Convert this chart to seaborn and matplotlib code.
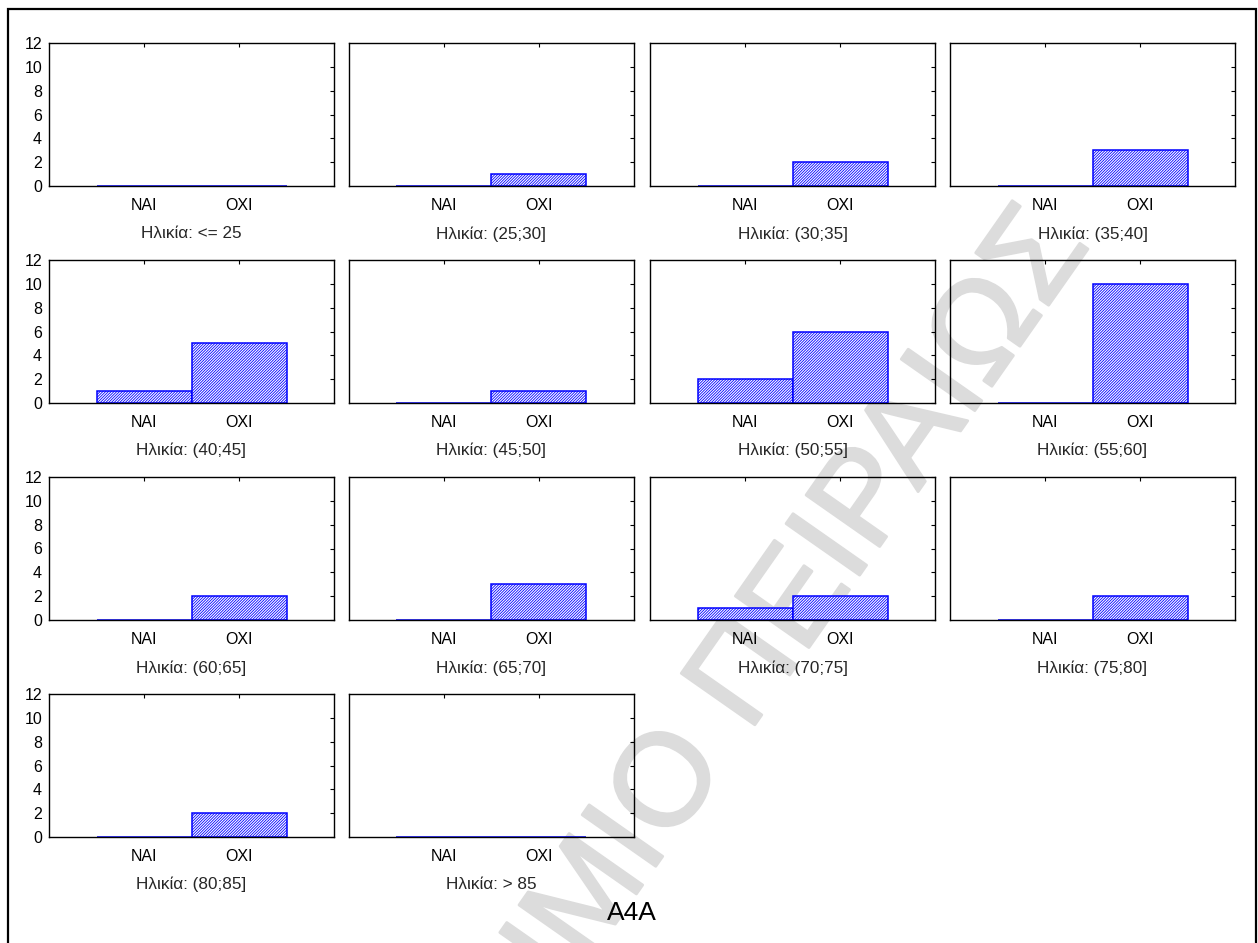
import matplotlib
matplotlib.use("Agg")
import matplotlib.pyplot as plt
import matplotlib.patheffects as pe
from matplotlib.patches import Rectangle
import pandas as pd
import seaborn as sns

# Counts of answers (NAI / OXI) per age group
answers = ["NAI", "OXI"]
age_groups = ["<= 25", "(25;30]", "(30;35]", "(35;40]",
              "(40;45]", "(45;50]", "(50;55]", "(55;60]",
              "(60;65]", "(65;70]", "(70;75]", "(75;80]",
              "(80;85]", "> 85"]
nai_counts = [0, 0, 0, 0, 1, 0, 2, 0, 0, 0, 1, 0, 0, 0]
oxi_counts = [0, 1, 2, 3, 5, 1, 6, 10, 2, 3, 2, 2, 2, 0]
y_ticks = [0, 2, 4, 6, 8, 10, 12]
title = "A4A"
watermark = "ΠΑΝΕΠΙΣΤΗΜΙΟ ΠΕΙΡΑΙΩΣ"

sns.set_theme(style="white")
plt.rcParams["font.family"] = ["Liberation Sans", "DejaVu Sans"]
plt.rcParams["hatch.color"] = "#0000ff"
plt.rcParams["hatch.linewidth"] = 0.6

W, H = 1258, 943
fig = plt.figure(figsize=(W / 100, H / 100), dpi=100)
fig.patch.set_facecolor("white")

# outer frame
fig.add_artist(Rectangle((8 / W, -0.02), 1248 / W, 1.02 - 9 / H,
                         transform=fig.transFigure, fill=False,
                         edgecolor="black", linewidth=1.6, zorder=5))

# faint diagonal watermark behind the panels
wm_color = "#dcdcdc"
fig.text(1062 / W, 1 - 226 / H, watermark, rotation=55,
         rotation_mode="anchor", ha="right", va="center",
         fontsize=94, color=wm_color, zorder=-5,
         path_effects=[pe.withStroke(linewidth=2.0, foreground=wm_color)])

col_left = [49, 349, 650, 950]
row_top = [43, 260, 477, 694]
ax_w, ax_h = 285, 143

for i, grp in enumerate(age_groups):
    r, c = divmod(i, 4)
    ax = fig.add_axes([col_left[c] / W, 1 - (row_top[r] + ax_h) / H,
                       ax_w / W, ax_h / H])
    ax.patch.set_alpha(0)
    df = pd.DataFrame({"answer": answers,
                       "count": [nai_counts[i], oxi_counts[i]]})
    sns.barplot(data=df, x="answer", y="count", ax=ax, width=1.0,
                color="white", saturation=1, edgecolor="#0000ff",
                linewidth=1.1, zorder=2)
    for bar in ax.patches:
        bar.set_hatch("/" * 12)
        bar.set_edgecolor("#0000ff")
        bar.set_facecolor("white")
    ax.set_xlim(-1, 2)
    ax.set_ylim(0, 12)
    ax.set_yticks(y_ticks)
    ax.tick_params(direction="in", top=True, right=True, length=3,
                   width=0.8, color="black", labelsize=11.5,
                   colors="black")
    ax.tick_params(axis="x", pad=8.5)
    ax.tick_params(axis="y", pad=5)
    if c != 0:
        ax.tick_params(axis="y", labelleft=False)
    ax.set_ylabel("")
    ax.set_xlabel(f"Ηλικία: {grp}", fontsize=12.3, labelpad=9.5)
    for s in ax.spines.values():
        s.set_visible(True)
        s.set_color("black")
        s.set_linewidth(1.0)

fig.text(632 / W, 1 - 913 / H, title, ha="center", va="center",
         fontsize=19, color="black")

fig.savefig("out.png", dpi=100, facecolor="white")
